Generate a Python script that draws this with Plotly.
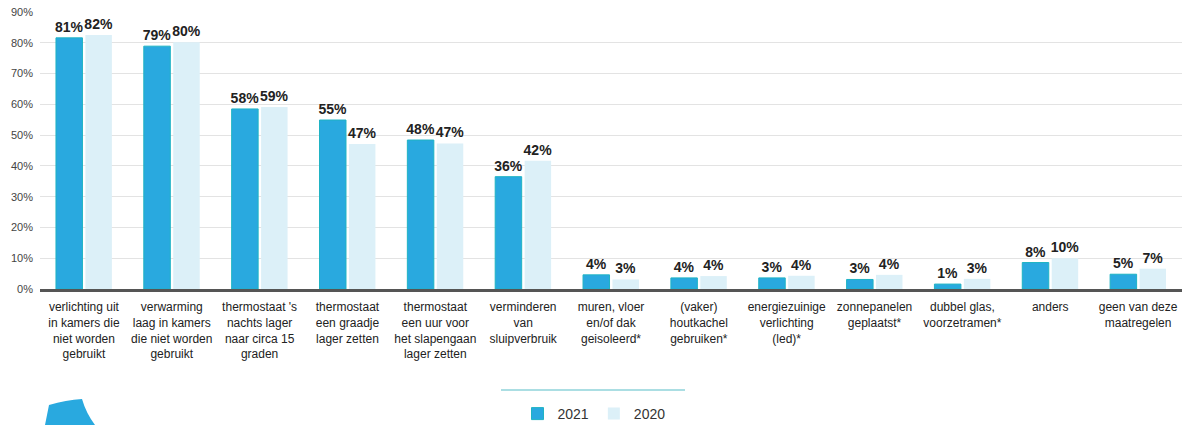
import plotly.graph_objects as go

categories = [
    "verlichting uit<br>in kamers die<br>niet worden<br>gebruikt",
    "verwarming<br>laag in kamers<br>die niet worden<br>gebruikt",
    "thermostaat 's<br>nachts lager<br>naar circa 15<br>graden",
    "thermostaat<br>een graadje<br>lager zetten",
    "thermostaat<br>een uur voor<br>het slapengaan<br>lager zetten",
    "verminderen<br>van<br>sluipverbruik",
    "muren, vloer<br>en/of dak<br>geisoleerd*",
    "(vaker)<br>houtkachel<br>gebruiken*",
    "energiezuinige<br>verlichting<br>(led)*",
    "zonnepanelen<br>geplaatst*",
    "dubbel glas,<br>voorzetramen*",
    "anders",
    "geen van deze<br>maatregelen",
]

values_2021 = [81.6, 78.9, 58.5, 54.9, 48.4, 36.5, 4.6, 3.6, 3.6, 3.1, 1.6, 8.6, 4.8]
values_2020 = [82.5, 80.2, 59.1, 47.1, 47.3, 41.7, 3.1, 4.2, 4.3, 4.6, 3.3, 10.0, 6.6]
labels_2021 = ["81%", "79%", "58%", "55%", "48%", "36%", "4%", "4%", "3%", "3%", "1%", "8%", "5%"]
labels_2020 = ["82%", "80%", "59%", "47%", "47%", "42%", "3%", "4%", "4%", "4%", "3%", "10%", "7%"]

y_ticks = [0, 10, 20, 30, 40, 50, 60, 70, 80, 90]
y_tick_text = ["0%", "10%", "20%", "30%", "40%", "50%", "60%", "70%", "80%", "90%"]

W, H = 1187, 425
ML, MR, MT, MB = 40, 5, 12, 136
PW = W - ML - MR
PH = H - MT - MB


def px(x):
    return (x - ML) / PW


def py(y):
    return (H - MB - y) / PH


label_font = dict(family="Liberation Sans, Arial", size=14, color="#222222", weight="bold")

fig = go.Figure()
fig.add_trace(go.Bar(
    name="2021", x=categories, y=values_2021, text=labels_2021,
    textposition="outside", cliponaxis=False, constraintext="none",
    marker=dict(color="#29a9df", line=dict(color="#1fb3c4", width=1)),
    textfont=label_font, hoverinfo="skip",
))
fig.add_trace(go.Bar(
    name="2020", x=categories, y=values_2020, text=labels_2020,
    textposition="outside", cliponaxis=False, constraintext="none",
    marker=dict(color="#dcf0f8", line=dict(width=0)),
    textfont=label_font, hoverinfo="skip",
))

# decorative line above legend
fig.add_shape(type="line", xref="paper", yref="paper",
              x0=px(501), x1=px(685), y0=py(390), y1=py(390),
              line=dict(color="#8fd3da", width=1.5))

# partial logo in lower left corner
pts = [(49, 405), (66, 400), (82, 399), (86, 413), (95, 425), (45, 425)]
path = (f"M {px(pts[0][0])},{py(pts[0][1])} "
        f"Q {px(pts[1][0])},{py(pts[1][1])} {px(pts[2][0])},{py(pts[2][1])} "
        f"Q {px(pts[3][0])},{py(pts[3][1])} {px(pts[4][0])},{py(pts[4][1])} "
        f"L {px(pts[5][0])},{py(pts[5][1])} Z")
fig.add_shape(type="path", xref="paper", yref="paper", path=path,
              fillcolor="#29a9df", line=dict(width=0))

fig.update_layout(
    width=W, height=H,
    margin=dict(l=ML, r=MR, t=MT, b=MB, autoexpand=False),
    paper_bgcolor="white", plot_bgcolor="white",
    barmode="group", bargap=0.33, bargroupgap=0.1,
    font=dict(family="Liberation Sans, Arial", color="#333333"),
    showlegend=True,
    legend=dict(orientation="h", x=px(594), xanchor="center",
                y=py(414), yanchor="middle",
                font=dict(size=14, color="#333333"),
                tracegroupgap=0),
    xaxis=dict(
        showline=True, linecolor="#555555", linewidth=3,
        ticks="outside", ticklen=5, tickcolor="rgba(0,0,0,0)",
        tickfont=dict(size=12, color="#222222"),
        tickangle=0, showgrid=False, automargin=False,
    ),
    yaxis=dict(
        range=[0, 90], tickmode="array", tickvals=y_ticks, ticktext=y_tick_text,
        showgrid=True, gridcolor="#e3e3e3", gridwidth=1,
        zeroline=False, showline=False,
        tickfont=dict(size=11, color="#444444"),
        ticks="", ticklabelstandoff=6, automargin=False,
    ),
)

fig.write_html("out.html", config={"displayModeBar": False},
               post_script="document.body.style.margin='0';document.body.style.overflow='hidden';")
